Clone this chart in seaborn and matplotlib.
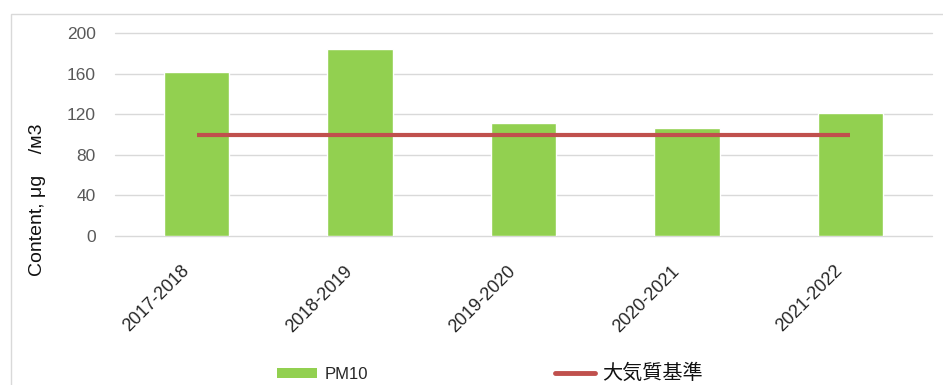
import matplotlib
matplotlib.use("Agg")
import matplotlib.pyplot as plt
from matplotlib.patches import Rectangle, Patch
from matplotlib.lines import Line2D
from matplotlib.transforms import ScaledTranslation
import seaborn as sns
import pandas as pd

# Seasonal PM10 content and the air-quality standard
seasons = ["2017-2018", "2018-2019", "2019-2020", "2020-2021", "2021-2022"]
pm10 = [162, 184, 111, 106, 121]
standard = [100, 100, 100, 100, 100]
y_ticks = [0, 40, 80, 120, 160, 200]

bar_color = "#92d050"
line_color = "#c0504d"

sns.set_theme(style="white")
plt.rcParams["font.family"] = ["Liberation Sans", "Noto Sans CJK JP", "DejaVu Sans"]

df = pd.DataFrame({"season": seasons, "pm10": pm10, "standard": standard})

fig = plt.figure(figsize=(9.43, 3.85), dpi=100)
ax = fig.add_axes([115 / 943, 1 - 236 / 385, 817 / 943, 203 / 385])

sns.barplot(data=df, x="season", y="pm10", color=bar_color, width=0.4,
            saturation=1, ax=ax, zorder=2)
ax.plot(range(len(seasons)), df["standard"], color=line_color, lw=3,
        solid_capstyle="butt", zorder=3)

ax.set_ylim(0, 200)
ax.set_xlim(-0.5, len(seasons) - 0.5)
ax.set_yticks(y_ticks)
ax.yaxis.grid(True, color="#d9d9d9", lw=1)
ax.set_axisbelow(True)
for s in ax.spines.values():
    s.set_visible(False)
for gl in ax.get_ygridlines():
    gl.set_clip_on(False)

ax.tick_params(axis="y", length=0, pad=14, labelsize=12.5, labelcolor="#595959")
ax.tick_params(axis="x", length=0, pad=19, labelsize=13, labelcolor="#262626")
shift = ScaledTranslation(-16 / 100, 0, fig.dpi_scale_trans)
for lab in ax.get_xticklabels():
    lab.set_rotation(45)
    lab.set_ha("right")
    lab.set_rotation_mode("anchor")
    lab.set_transform(lab.get_transform() + shift)

ax.set_xlabel("")
ax.set_ylabel("Content, μg    /м3", fontsize=14, color="#111111")
ax.yaxis.set_label_coords((46 - 115) / 817, (236 - 200) / 203)

handles = [Patch(facecolor=bar_color, edgecolor="none"),
           Line2D([0], [0], color=line_color, lw=3.5)]
leg = fig.legend(handles, ["PM10", "大気質基準"], loc="center left",
                 bbox_to_anchor=(277 / 943, 1 - 373 / 385), ncol=2, frameon=False,
                 prop={"size": 12}, borderpad=0, borderaxespad=0,
                 handlelength=2.4, handleheight=0.55, handletextpad=0.45,
                 columnspacing=11.2)
texts = leg.get_texts()
texts[0].set_color("#262626")
texts[1].set_fontsize(14.5)
texts[1].set_color("#111111")

fig.patches.append(Rectangle((11 / 943, -0.1), 1.2, 1 - 14 / 385 + 0.1,
                             transform=fig.transFigure, fill=False,
                             edgecolor="#d9d9d9", lw=1))

fig.savefig("out.png", dpi=100, facecolor="white")
